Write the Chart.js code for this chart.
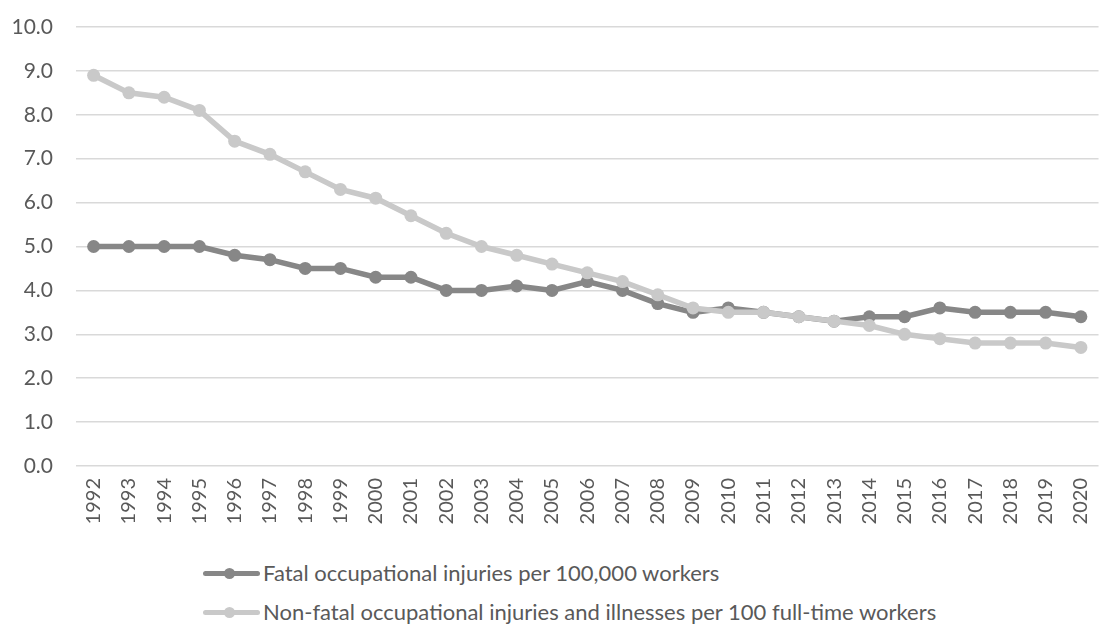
<!DOCTYPE html>
<html>
<head>
<meta charset="utf-8">
<script src="https://cdn.jsdelivr.net/npm/chart.js@4.4.1/dist/chart.umd.min.js"></script>
<style>
    html, body { margin: 0; padding: 0; background: #fff; width: 1106px; height: 624px; overflow: hidden; }
    #wrap { position: absolute; left: 0; top: 0; width: 1117px; height: 526px; }
    #legend { position: absolute; left: 203px; top: 553px; font-family: Lato, "Open Sans", sans-serif; font-size: 22px; color: #595959; }
    .item { position: relative; height: 39px; display: flex; align-items: center; }
    .mark { position: relative; width: 57px; height: 34px; margin-right: 3px; }
    .mark .ln { position: absolute; left: 0; right: 0; top: 15px; height: 5px; border-radius: 3px; }
    .mark .dot { position: absolute; left: 21px; top: 12px; width: 11px; height: 11px; border-radius: 50%; }
</style>
</head>
<body>
<div id="wrap"><canvas id="chart"></canvas></div>
<div id="legend"></div>
<script>
const years = ['1992', '1993', '1994', '1995', '1996', '1997', '1998', '1999', '2000', '2001',
    '2002', '2003', '2004', '2005', '2006', '2007', '2008', '2009', '2010', '2011',
    '2012', '2013', '2014', '2015', '2016', '2017', '2018', '2019', '2020'];

const fatal = [5.0, 5.0, 5.0, 5.0, 4.8, 4.7, 4.5, 4.5, 4.3, 4.3,
    4.0, 4.0, 4.1, 4.0, 4.2, 4.0, 3.7, 3.5, 3.6, 3.5,
    3.4, 3.3, 3.4, 3.4, 3.6, 3.5, 3.5, 3.5, 3.4];

const nonFatal = [8.9, 8.5, 8.4, 8.1, 7.4, 7.1, 6.7, 6.3, 6.1, 5.7,
    5.3, 5.0, 4.8, 4.6, 4.4, 4.2, 3.9, 3.6, 3.5, 3.5,
    3.4, 3.3, 3.2, 3.0, 2.9, 2.8, 2.8, 2.8, 2.7];

const seriesNames = ['Fatal occupational injuries per 100,000 workers',
    'Non-fatal occupational injuries and illnesses per 100 full-time workers'];
const seriesColors = ['#878787', '#c9c9c9'];

const FONT = 'Lato, "Open Sans", sans-serif';

function makeSet(label, data, color) {
    return {
        label: label,
        data: data,
        borderColor: color,
        backgroundColor: color,
        borderWidth: 5.5,
        pointRadius: 6.5,
        pointHoverRadius: 6.5,
        pointBorderWidth: 0,
        tension: 0
    };
}

const ctx = document.getElementById('chart').getContext('2d');
new Chart(ctx, {
    type: 'line',
    data: {
        labels: years,
        datasets: [
            makeSet(seriesNames[1], nonFatal, seriesColors[1]),
            makeSet(seriesNames[0], fatal, seriesColors[0])
        ]
    },
    options: {
        responsive: true,
        maintainAspectRatio: false,
        animation: false,
        layout: { padding: { top: 27, left: 0, right: 0, bottom: 0 } },
        plugins: {
            legend: { display: false },
            tooltip: { enabled: false }
        },
        scales: {
            y: {
                min: 0,
                max: 10,
                ticks: {
                    stepSize: 1,
                    padding: 3,
                    color: '#595959',
                    font: { family: FONT, size: 21 },
                    callback: v => Number(v).toFixed(1)
                },
                // transparent tick marks just push the labels away from the plot
                grid: { color: '#d9d9d9', lineWidth: 1.5, drawTicks: true, tickLength: 20, tickColor: 'rgba(0,0,0,0)' },
                border: { display: false },
                afterFit: s => { s.width = 76; }
            },
            x: {
                offset: true,
                ticks: {
                    minRotation: 90,
                    maxRotation: 90,
                    autoSkip: false,
                    padding: 12,
                    color: '#595959',
                    font: { family: FONT, size: 20 }
                },
                grid: { display: false, drawTicks: false },
                border: { display: false },
                afterFit: s => { s.height = 60; }
            }
        }
    }
});

const legend = document.getElementById('legend');
seriesNames.forEach((name, i) => {
    const row = document.createElement('div');
    row.className = 'item';
    row.innerHTML = `<div class="mark"><div class="ln" style="background:${seriesColors[i]}"></div>` +
        `<div class="dot" style="background:${seriesColors[i]}"></div></div><span>${name}</span>`;
    legend.appendChild(row);
});
</script>
</body>
</html>
